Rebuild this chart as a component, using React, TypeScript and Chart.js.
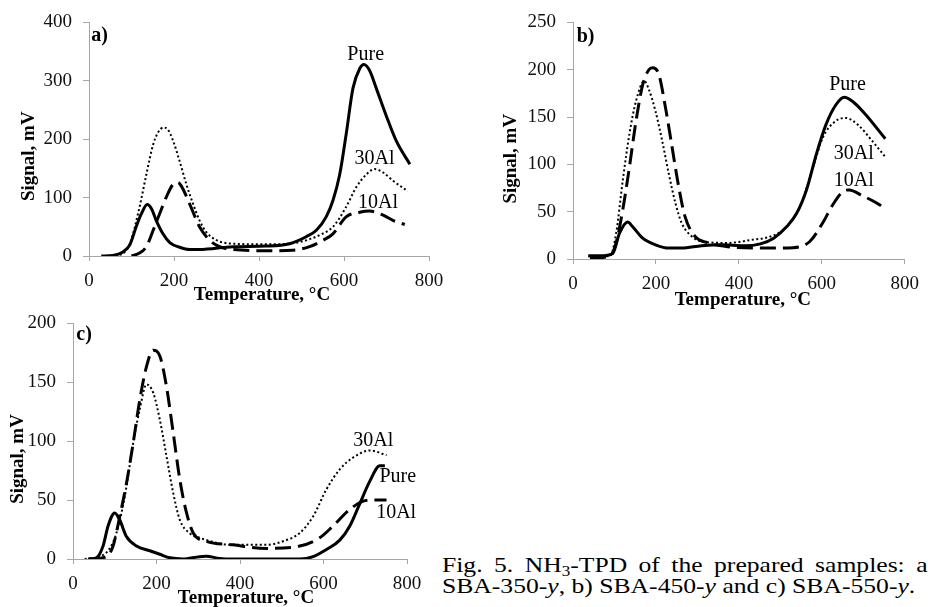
import React, { useEffect, useRef } from "react";
import { Chart, registerables } from "chart.js";
Chart.register(...registerables);

const FONT = "'Liberation Serif', 'Times New Roman', serif";

// ---------- Panel a) SBA-350-y ----------
const aPureX = [29, 56, 80, 96, 111, 123, 137, 147, 158, 174, 190, 213, 237, 260, 339, 417, 472, 511, 535, 558, 574, 590, 605, 621, 637, 647, 660, 676, 700, 723, 755];
const aPureY = [0, 1, 7, 19, 50, 72, 88, 81, 61, 38, 23, 15, 11, 11, 16, 17, 21, 33, 44, 67, 95, 140, 208, 287, 321, 328, 318, 287, 239, 197, 157];
const a30X = [30, 72, 96, 119, 135, 151, 162, 175, 186, 198, 213, 229, 245, 260, 276, 300, 339, 417, 496, 543, 574, 605, 629, 653, 672, 692, 715, 750];
const a30Y = [0, 2, 21, 84, 140, 191, 211, 220, 216, 197, 163, 123, 89, 61, 41, 27, 21, 20, 24, 36, 50, 84, 118, 140, 149, 143, 129, 111];
const a10X = [100, 119, 135, 151, 166, 182, 198, 209, 217, 237, 260, 284, 307, 339, 417, 480, 519, 551, 574, 605, 637, 660, 692, 715, 743];
const a10Y = [0, 5, 16, 44, 72, 101, 123, 126, 120, 89, 50, 27, 16, 11, 9, 10, 16, 27, 38, 67, 75, 77, 70, 61, 54];

// ---------- Panel b) SBA-450-y ----------
const bPureX = [37, 73, 96, 112, 132, 144, 168, 199, 231, 262, 310, 357, 413, 452, 484, 515, 539, 563, 587, 610, 634, 654, 673, 705, 753];
const bPureY = [3.5, 3.5, 6, 27, 39, 34, 22, 15, 11.5, 11.5, 14, 15, 14, 16, 22, 34, 48, 73, 111, 142, 163, 171, 167, 153, 127];
const b30X = [37, 89, 104, 120, 136, 152, 172, 183, 199, 215, 231, 247, 262, 286, 310, 373, 428, 484, 515, 547, 579, 602, 634, 658, 689, 721, 753];
const b30Y = [3, 3, 27, 83, 132, 167, 188, 179, 156, 125, 90, 59, 38, 24, 18.5, 17, 20, 25, 34, 55, 97, 128, 146, 149, 141, 125, 108];
const b10X = [41, 89, 104, 120, 136, 152, 168, 183, 192, 207, 223, 239, 255, 270, 294, 326, 373, 452, 531, 571, 602, 626, 650, 666, 697, 729, 757];
const b10Y = [1, 3, 17, 52, 97, 146, 184, 200, 202, 195, 160, 118, 76, 45, 24, 17, 13, 11.5, 12, 18.5, 38, 57, 71, 73, 67, 60, 52];

// ---------- Panel c) SBA-550-y ----------
const cPureX = [36, 56, 72, 84, 100, 112, 128, 152, 184, 208, 232, 263, 303, 319, 351, 383, 543, 575, 607, 639, 663, 687, 711, 735, 747];
const cPureY = [0, 1, 11, 28, 39, 33, 19, 11, 7, 4, 1, 0, 2, 2.3, 0.5, 0, 0, 2, 8, 16, 28, 47, 66, 79, 79];
const c30X = [28, 64, 88, 104, 124, 144, 160, 176, 192, 208, 224, 240, 256, 279, 303, 383, 463, 503, 543, 575, 607, 639, 671, 711, 751];
const c30Y = [0, 2, 9, 22, 53, 98, 127, 148, 141, 118, 87, 56, 33, 22, 18, 12, 12, 15, 22, 36, 59, 76, 86, 92, 88];
const c10X = [40, 80, 96, 112, 128, 144, 160, 176, 192, 208, 224, 240, 256, 272, 288, 319, 383, 463, 543, 591, 623, 663, 695, 719, 751];
const c10Y = [0, 2, 11, 36, 64, 98, 135, 163, 177, 172, 146, 107, 67, 39, 22, 15, 12, 9, 11, 18, 28, 42, 49, 50, 50];

const xTicks = [0, 200, 400, 600, 800];
const seriesNames = ["Pure", "30Al", "10Al"];
const panelLetters = ["a)", "b)", "c)"];
const xTitleText = "Temperature, °C";
const yTitleText = "Signal, mV";

const pts = (xs: number[], ys: number[]) => xs.map((x, i) => ({ x, y: ys[i] }));

const textPlugin = {
  id: "panelText",
  afterDatasetsDraw(chart: any, _args: any, opts: any) {
    const ctx = chart.ctx;
    const xs = chart.scales.x;
    const ys = chart.scales.y;
    const area = chart.chartArea;
    ctx.save();
    ctx.fillStyle = "#000";
    ctx.textBaseline = "middle";
    for (const a of opts.labels || []) {
      ctx.font = a.font;
      ctx.textAlign = a.align || "center";
      ctx.fillText(a.text, xs.getPixelForValue(a.x), ys.getPixelForValue(a.y));
    }
    ctx.font = `bold 19px ${FONT}`;
    ctx.textAlign = "center";
    ctx.fillText(opts.xTitle, (area.left + area.right) / 2 + opts.xTitleDx, area.bottom + opts.xTitleDy);
    ctx.save();
    ctx.translate(area.left + opts.yTitleDx, (area.top + area.bottom) / 2 + opts.yTitleDy);
    ctx.rotate(-Math.PI / 2);
    ctx.fillText(opts.yTitle, 0, 0);
    ctx.restore();
    ctx.restore();
  },
};

type PanelProps = {
  left: number; top: number; width: number; height: number;
  padTop: number; padRight: number; padBottom: number; yWidth: number; xHeight: number;
  yMax: number; yStep: number;
  pure: { x: number; y: number }[]; al30: { x: number; y: number }[]; al10: { x: number; y: number }[];
  labels: any[];
  xTitleDx: number; xTitleDy: number; yTitleDx: number; yTitleDy: number;
};

function Panel(p: PanelProps) {
  const ref = useRef<HTMLCanvasElement>(null);
  useEffect(() => {
    if (!ref.current) return;
    const axisColor = "#a6a6a6";
    const chart = new Chart(ref.current, {
      type: "line",
      data: {
        datasets: [
          { label: seriesNames[0], data: p.pure, borderColor: "#000", borderWidth: 3, pointRadius: 0, cubicInterpolationMode: "monotone" },
          { label: seriesNames[2], data: p.al10, borderColor: "#000", borderWidth: 3, borderDash: [16, 7], pointRadius: 0, cubicInterpolationMode: "monotone" },
          { label: seriesNames[1], data: p.al30, borderColor: "#000", borderWidth: 2, borderDash: [2, 2.5], pointRadius: 0, cubicInterpolationMode: "monotone" },
        ],
      },
      options: {
        animation: false,
        responsive: false,
        events: [],
        layout: { padding: { left: 0, top: p.padTop, right: p.padRight, bottom: p.padBottom } },
        scales: {
          x: {
            type: "linear",
            min: 0,
            max: 800,
            afterBuildTicks: (s: any) => { s.ticks = xTicks.map((v) => ({ value: v })); },
            afterFit: (s: any) => { s.height = p.xHeight; },
            grid: { drawOnChartArea: false, drawTicks: true, tickLength: 5, color: axisColor },
            border: { color: axisColor, width: 1 },
            ticks: { color: "#111", padding: 9, maxRotation: 0, font: { family: FONT, size: 19 } },
          },
          y: {
            type: "linear",
            min: 0,
            max: p.yMax,
            afterFit: (s: any) => { s.width = p.yWidth; },
            grid: { drawOnChartArea: false, drawTicks: true, tickLength: 6, color: axisColor },
            border: { color: axisColor, width: 1 },
            ticks: { color: "#111", padding: 11, stepSize: p.yStep, font: { family: FONT, size: 19 } },
          },
        },
        plugins: {
          legend: { display: false },
          tooltip: { enabled: false },
          panelText: {
            labels: p.labels,
            xTitle: xTitleText,
            yTitle: yTitleText,
            xTitleDx: p.xTitleDx,
            xTitleDy: p.xTitleDy,
            yTitleDx: p.yTitleDx,
            yTitleDy: p.yTitleDy,
          },
        } as any,
      },
      plugins: [textPlugin],
    } as any);
    return () => chart.destroy();
  }, []);
  return (
    <canvas
      ref={ref}
      width={p.width}
      height={p.height}
      style={{ position: "absolute", left: p.left, top: p.top, width: p.width, height: p.height }}
    />
  );
}

const lab = (text: string, x: number, y: number, bold = false, align = "center") => ({
  text, x, y, align, font: `${bold ? "bold " : ""}20px ${FONT}`,
});

export default function App() {
  return (
    <div style={{ position: "absolute", left: 0, top: 0, width: 928, height: 607, overflow: "hidden", background: "#fff" }}>
      <Panel
        left={464} top={0} width={464} height={312}
        padTop={21} padRight={17} padBottom={12} yWidth={109} xHeight={41}
        yMax={250} yStep={50}
        pure={pts(bPureX, bPureY)} al30={pts(b30X, b30Y)} al10={pts(b10X, b10Y)}
        labels={[lab(seriesNames[0], 662, 184), lab(seriesNames[1], 677, 111), lab(seriesNames[2], 677, 83), lab(panelLetters[1], 9, 235, true, "left")]}
        xTitleDx={4} xTitleDy={41} yTitleDx={-62} yTitleDy={18}
      />
      <Panel
        left={0} top={300} width={432} height={307}
        padTop={23} padRight={25} padBottom={0} yWidth={73} xHeight={48}
        yMax={200} yStep={50}
        pure={pts(cPureX, cPureY)} al30={pts(c30X, c30Y)} al10={pts(c10X, c10Y)}
        labels={[lab(seriesNames[1], 719, 100), lab(seriesNames[0], 778, 70), lab(seriesNames[2], 774, 39), lab(panelLetters[2], 8, 190, true, "left")]}
        xTitleDx={6} xTitleDy={39} yTitleDx={-55} yTitleDy={18}
      />
      <Panel
        left={0} top={0} width={464} height={310}
        padTop={20} padRight={35} padBottom={10} yWidth={89} xHeight={44}
        yMax={400} yStep={100}
        pure={pts(aPureX, aPureY)} al30={pts(a30X, a30Y)} al10={pts(a10X, a10Y)}
        labels={[lab(seriesNames[0], 651, 344), lab(seriesNames[1], 672, 166), lab(seriesNames[2], 680, 92), lab(panelLetters[0], 5, 377, true, "left")]}
        xTitleDx={3} xTitleDy={39} yTitleDx={-60} yTitleDy={17}
      />
      <div
        style={{
          position: "absolute", left: 442, top: 555, width: 405,
          fontFamily: FONT, fontSize: 21, lineHeight: "21px", color: "#000",
          transform: "scaleX(1.22)", transformOrigin: "0 0",
        }}
      >
        <div style={{ textAlign: "justify", textAlignLast: "justify" as any, whiteSpace: "normal" }}>
          Fig. 5. NH<sub style={{ fontSize: 14, lineHeight: 0, verticalAlign: "-4px" }}>3</sub>-TPD of the prepared samples: a)
        </div>
        <div style={{ whiteSpace: "nowrap" }}>
          SBA-350-<i>y</i>, b) SBA-450-<i>y</i> and c) SBA-550-<i>y</i>.
        </div>
      </div>
    </div>
  );
}
